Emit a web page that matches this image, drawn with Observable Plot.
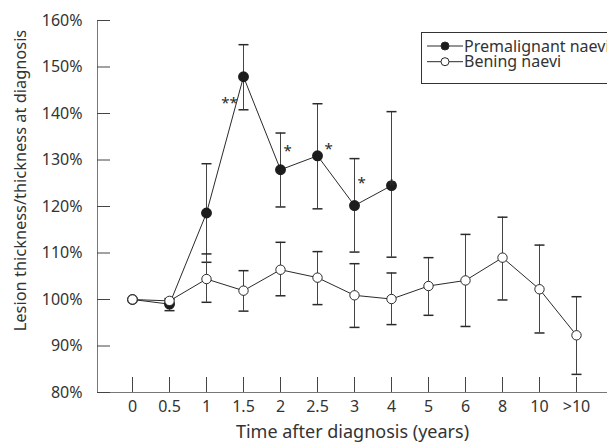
<!DOCTYPE html>
<html><head><meta charset="utf-8">
<script src="https://cdn.jsdelivr.net/npm/d3@7"></script>
<script src="https://cdn.jsdelivr.net/npm/@observablehq/plot@0.6"></script>
<style>
html,body{margin:0;padding:0;background:#fff;overflow:hidden;}
#wrap{position:relative;width:607px;height:445px;overflow:hidden;}
#legend{position:absolute;left:421px;top:32px;width:220px;height:52px;border:1px solid #333;box-sizing:border-box;background:#fff;}
</style></head><body><div id="wrap"></div>
<script>
// time categories (x axis tick labels)
const categories = ["0","0.5","1","1.5","2","2.5","3","4","5","6","8","10",">10"];
const yTicks = [80,90,100,110,120,130,140,150,160];

// Premalignant naevi (first 8 time points)
const premalMean = [100, 99.0, 118.6, 147.9, 127.9, 130.9, 120.2, 124.5];
const premalLo   = [null, 97.6, 108.0, 140.8, 119.9, 119.5, 110.2, 109.1];
const premalHi   = [null, 100.0, 129.2, 154.8, 135.8, 142.1, 130.3, 140.4];

// Benign naevi
const benignMean = [100, 99.7, 104.4, 101.9, 106.4, 104.7, 100.9, 100.1, 102.9, 104.1, 109.0, 102.2, 92.3];
const benignLo   = [null, 99.2, 99.4, 97.5, 100.8, 98.9, 94.0, 94.6, 96.6, 94.2, 99.9, 92.8, 83.9];
const benignHi   = [null, 100.2, 109.8, 106.2, 112.3, 110.3, 107.7, 105.7, 109.0, 114.0, 117.7, 111.7, 100.6];

// significance markers
const starLabels = ["**", "*", "*", "*", "*"];
const starX = ["1.5", "2", "2.5", "3", "4"];
const starY = [143.3, 133.0, 133.3, 126.1, 125.6];

const seriesNames = ["Premalignant naevi", "Bening naevi"];
const yTitle = "Lesion thickness/thickness at diagnosis";
const xTitle = "Time after diagnosis (years)";

const premal = premalMean.map((v,i)=>({t:categories[i], v, lo:premalLo[i], hi:premalHi[i]}));
const benign = benignMean.map((v,i)=>({t:categories[i], v, lo:benignLo[i], hi:benignHi[i]}));
const premalErr = premal.filter(d=>d.lo!=null);
const benignErr = benign.filter(d=>d.lo!=null);
const stars = starLabels.map((s,i)=>({s, t:starX[i], y:starY[i]}));

const cap = {draw(ctx){ ctx.moveTo(-5,0); ctx.lineTo(5,0); }};
const FONT = "'Noto Sans', sans-serif";
const ink = "#2a2a2a";

const chart = Plot.plot({
  width:607, height:445,
  marginLeft:97, marginRight:0, marginTop:20, marginBottom:53,
  style:{fontFamily:FONT, fontSize:"16px", color:"#333", background:"#fff"},
  x:{type:"point", domain:categories, range:[131.7,575.7], padding:0},
  y:{domain:[80,160], ticks:yTicks},
  marks:[
    Plot.ruleY([80], {stroke:"#777"}),
    Plot.frame({anchor:"left", stroke:"#777"}),
    Plot.axisY({ticks:yTicks, tickSize:0, tickPadding:15, tickFormat:d=>d+"%", label:null, fontSize:16, fill:"#333"}),
    Plot.axisY({ticks:yTicks, tickSize:13, dx:13, text:null, label:null, stroke:"#444"}),
    Plot.axisX({tickSize:0, tickPadding:8, label:null, fontSize:16, fill:"#333"}),
    Plot.axisX({tickSize:15, dy:-15, text:null, label:null, stroke:"#444"}),
    Plot.text([yTitle], {text:d=>d, frameAnchor:"left", textAnchor:"middle", lineAnchor:"middle", rotate:-90, dx:-77, dy:-26, fontSize:16.4, fill:"#333"}),
    Plot.text([xTitle], {text:d=>d, frameAnchor:"bottom", textAnchor:"middle", lineAnchor:"middle", dy:40, fontSize:18, fill:"#333"}),
    // error bars
    Plot.ruleX(premalErr, {x:"t", y1:"lo", y2:"hi", stroke:"#444"}),
    Plot.dot(premalErr, {x:"t", y:"lo", symbol:cap, r:5, fill:"none", stroke:ink}),
    Plot.dot(premalErr, {x:"t", y:"hi", symbol:cap, r:5, fill:"none", stroke:ink}),
    Plot.ruleX(benignErr, {x:"t", y1:"lo", y2:"hi", stroke:"#444"}),
    Plot.dot(benignErr, {x:"t", y:"lo", symbol:cap, r:5, fill:"none", stroke:ink}),
    Plot.dot(benignErr, {x:"t", y:"hi", symbol:cap, r:5, fill:"none", stroke:ink}),
    // lines
    Plot.line(premal, {x:"t", y:"v", stroke:ink, strokeWidth:1}),
    Plot.line(benign, {x:"t", y:"v", stroke:ink, strokeWidth:1}),
    // dots
    Plot.dot(premal, {x:"t", y:"v", r:4.7, fill:"#1c1c1c", stroke:"#1c1c1c"}),
    Plot.dot(benign, {x:"t", y:"v", r:4.7, fill:"#fff", stroke:ink, strokeWidth:1}),
    // significance stars
    Plot.text(stars.filter(d=>d.s==="**"), {x:"t", y:"y", text:"s", dx:-14, dy:5, fontSize:15, fill:ink}),
    Plot.text(stars.filter(d=>d.s==="*" && d.t!=="4" && d.t!=="2.5"), {x:"t", y:"y", text:"s", dx:7, dy:5, fontSize:15, fill:ink}),
    Plot.text(stars.filter(d=>d.t==="2.5"), {x:"t", y:"y", text:"s", dx:11, dy:5, fontSize:15, fill:ink}),
    Plot.text(stars.filter(d=>d.t==="4"), {x:"t", y:"y", text:"s", dx:0, dy:5, fontSize:15, fill:ink})
  ]
});
const wrap = document.getElementById("wrap");
wrap.appendChild(chart);

// legend (inside plot area, top right)
const legend = document.createElement("div");
legend.id = "legend";
const svgNS = "http://www.w3.org/2000/svg";
const ls = document.createElementNS(svgNS, "svg");
ls.setAttribute("width", 220); ls.setAttribute("height", 50);
seriesNames.forEach((name, i) => {
  const cy = 13 + i*15.7;
  const g = document.createElementNS(svgNS, "g");
  const line = document.createElementNS(svgNS, "line");
  line.setAttribute("x1", 5); line.setAttribute("x2", 41); line.setAttribute("y1", cy); line.setAttribute("y2", cy);
  line.setAttribute("stroke", ink);
  const c = document.createElementNS(svgNS, "circle");
  c.setAttribute("cx", 23); c.setAttribute("cy", cy); c.setAttribute("r", 4);
  c.setAttribute("fill", i===0 ? "#1c1c1c" : "#fff"); c.setAttribute("stroke", ink);
  const t = document.createElementNS(svgNS, "text");
  t.setAttribute("x", 42); t.setAttribute("y", cy); t.setAttribute("dy", "0.35em");
  t.setAttribute("font-family", FONT); t.setAttribute("font-size", 16); t.setAttribute("fill", "#333");
  t.textContent = name;
  g.appendChild(line); g.appendChild(c); g.appendChild(t);
  ls.appendChild(g);
});
legend.appendChild(ls);
wrap.appendChild(legend);
</script>
</body></html>
